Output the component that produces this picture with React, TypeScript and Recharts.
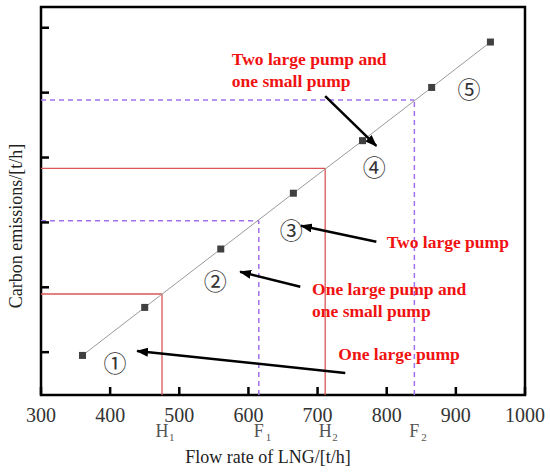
import {
  ComposedChart,
  Line,
  ReferenceArea,
  ReferenceDot,
  ReferenceLine,
  XAxis,
  YAxis,
} from "recharts";

// measured points (flow rate t/h, emission in axis units)
const FLOW = [360, 450, 560, 665, 765, 865, 950];
const EMISSION = [0.95, 1.69, 2.59, 3.45, 4.26, 5.08, 5.78];

const X_TICKS = [300, 400, 500, 600, 700, 800, 900, 1000];
const Y_TICKS = [1, 2, 3, 4, 5, 6];
const Y_MIN = 0.34;
const Y_MAX = 6.32;

// switching points: H = red solid, F = purple dashed
const H_FLOW = [475, 711];
const H_EMISSION = [1.897, 3.834];
const F_FLOW = [615, 840];
const F_EMISSION = [3.026, 4.887];

const ZONE_LABELS = ["①", "②", "③", "④", "⑤"];
const ZONE_X = [407, 552, 662, 782, 919];
const ZONE_Y = [0.85, 2.11, 2.9, 3.87, 5.07];

const NOTE_LINES = [
  ["Two large pump and", "one small pump"],
  ["Two large pump"],
  ["One large pump and", "one small pump"],
  ["One large pump"],
];
const NOTE_X = [576, 800, 692, 730];
const NOTE_Y = [5.426, 2.606, 1.881, 0.879];

// arrows, tail -> head
const ARROW_X1 = [740, 675, 785, 711];
const ARROW_Y1 = [0.679, 2.009, 2.703, 4.948];
const ARROW_X2 = [439, 588, 676, 785];
const ARROW_Y2 = [1.018, 2.24, 2.949, 4.178];

const data = FLOW.map((flow, i) => ({ flow, emission: EMISSION[i] }));

const SERIF = "'Liberation Serif', 'Times New Roman', serif";
const RED = "#dc5656";
const PURPLE = "#a070ee";

/* eslint-disable @typescript-eslint/no-explicit-any */
function XTick({ x, y, payload }: any) {
  return (
    <g>
      <line x1={x} x2={x} y1={y} y2={y - 8} stroke="#000" strokeWidth={2.5} />
      <text
        x={x}
        y={y + 27}
        textAnchor="middle"
        fontSize={20}
        fontFamily={SERIF}
        fill="#333"
      >
        {payload.value}
      </text>
    </g>
  );
}

function YTick({ x, y }: any) {
  return <line x1={x} x2={x + 8} y1={y} y2={y} stroke="#000" strokeWidth={2.5} />;
}

function SubLabel({ viewBox, main, sub }: any) {
  const x = viewBox.x;
  const y = viewBox.y + 42;
  return (
    <g fontFamily={SERIF} fill="#555">
      <text x={x} y={y} textAnchor="middle" fontSize={18}>
        {main}
      </text>
      <text x={x + 7} y={y + 4} fontSize={11}>
        {sub}
      </text>
    </g>
  );
}

function ZoneLabel({ viewBox, text }: any) {
  return (
    <text
      x={viewBox.x}
      y={viewBox.y}
      textAnchor="middle"
      dominantBaseline="central"
      fontSize={23}
      fontFamily="'Noto Sans CJK JP', 'DejaVu Sans', sans-serif"
      fill="#333"
    >
      {text}
    </text>
  );
}

function Note({ viewBox, lines }: any) {
  return (
    <text
      x={viewBox.x}
      y={viewBox.y}
      fontSize={17.5}
      fontWeight="bold"
      fontFamily={SERIF}
      fill="#f01212"
    >
      {lines.map((t: string, i: number) => (
        <tspan key={i} x={viewBox.x} dy={i === 0 ? 0 : 22}>
          {t}
        </tspan>
      ))}
    </text>
  );
}

function Arrow(p: any) {
  return (
    <line
      x1={p.x1}
      y1={p.y1}
      x2={p.x2}
      y2={p.y2}
      stroke="#000"
      strokeWidth={2.5}
      markerEnd="url(#arrowHead)"
    />
  );
}
/* eslint-enable @typescript-eslint/no-explicit-any */

export default function App() {
  return (
    <div>
      <style>{"body{margin:0}"}</style>
      <ComposedChart
        width={550}
        height={474}
        data={data}
        margin={{ top: 7, right: 25, bottom: 0, left: 0 }}
      >
        <defs>
          <marker
            id="arrowHead"
            markerUnits="userSpaceOnUse"
            markerWidth={12}
            markerHeight={9}
            refX={11}
            refY={4.5}
            orient="auto"
          >
            <path d="M0,0 L12,4.5 L0,9 z" fill="#000" />
          </marker>
        </defs>
        <XAxis
          dataKey="flow"
          type="number"
          domain={[300, 1000]}
          ticks={X_TICKS}
          interval={0}
          axisLine={false}
          tickLine={false}
          tickSize={0}
          tickMargin={0}
          height={79}
          tick={(p) => <XTick {...p} />}
          label={{
            content: () => (
              <text
                x={268}
                y={463}
                textAnchor="middle"
                fontSize={18}
                fontFamily={SERIF}
                fill="#222"
              >
                Flow rate of LNG/[t/h]
              </text>
            ),
          }}
        />
        <YAxis
          type="number"
          domain={[Y_MIN, Y_MAX]}
          ticks={Y_TICKS}
          interval={0}
          axisLine={false}
          tickLine={false}
          tickSize={0}
          tickMargin={0}
          width={41}
          tick={(p) => <YTick {...p} />}
          label={{
            content: () => (
              <text
                x={22}
                y={226}
                textAnchor="middle"
                fontSize={18}
                fontFamily={SERIF}
                fill="#222"
                transform="rotate(-90, 22, 226)"
              >
                Carbon emissions/[t/h]
              </text>
            ),
          }}
        />

        {H_FLOW.map((x, i) => (
          <ReferenceLine
            key={`hh${i}`}
            segment={[
              { x: 300, y: H_EMISSION[i] },
              { x, y: H_EMISSION[i] },
            ]}
            stroke={RED}
            strokeWidth={1.3}
          />
        ))}
        {H_FLOW.map((x, i) => (
          <ReferenceLine
            key={`hv${i}`}
            segment={[
              { x, y: Y_MIN },
              { x, y: H_EMISSION[i] },
            ]}
            stroke={RED}
            strokeWidth={1.3}
          />
        ))}
        {F_FLOW.map((x, i) => (
          <ReferenceLine
            key={`fh${i}`}
            segment={[
              { x: 300, y: F_EMISSION[i] },
              { x, y: F_EMISSION[i] },
            ]}
            stroke={PURPLE}
            strokeWidth={1.5}
            strokeDasharray="5 4"
          />
        ))}
        {F_FLOW.map((x, i) => (
          <ReferenceLine
            key={`fv${i}`}
            segment={[
              { x, y: Y_MIN },
              { x, y: F_EMISSION[i] },
            ]}
            stroke={PURPLE}
            strokeWidth={1.5}
            strokeDasharray="5 4"
          />
        ))}

        <Line
          dataKey="emission"
          type="linear"
          stroke="#9a9a9a"
          strokeWidth={1}
          isAnimationActive={false}
          dot={(p) => (
            <rect
              key={p.index}
              x={p.cx - 3.5}
              y={p.cy - 3.5}
              width={7}
              height={7}
              fill="#404040"
            />
          )}
          activeDot={false}
        />

        {ARROW_X1.map((x, i) => (
          <ReferenceLine
            key={`ar${i}`}
            segment={[
              { x, y: ARROW_Y1[i] },
              { x: ARROW_X2[i], y: ARROW_Y2[i] },
            ]}
            shape={(p) => <Arrow {...p} />}
          />
        ))}

        {ZONE_LABELS.map((t, i) => (
          <ReferenceDot
            key={`z${i}`}
            x={ZONE_X[i]}
            y={ZONE_Y[i]}
            r={0}
            stroke="none"
            label={(p) => <ZoneLabel {...p} text={t} />}
          />
        ))}
        {NOTE_LINES.map((lines, i) => (
          <ReferenceDot
            key={`n${i}`}
            x={NOTE_X[i]}
            y={NOTE_Y[i]}
            r={0}
            stroke="none"
            label={(p) => <Note {...p} lines={lines} />}
          />
        ))}
        {H_FLOW.map((x, i) => (
          <ReferenceDot
            key={`hl${i}`}
            x={x}
            y={Y_MIN}
            r={0}
            stroke="none"
            label={(p) => <SubLabel {...p} main="H" sub={String(i + 1)} />}
          />
        ))}
        {F_FLOW.map((x, i) => (
          <ReferenceDot
            key={`fl${i}`}
            x={x}
            y={Y_MIN}
            r={0}
            stroke="none"
            label={(p) => <SubLabel {...p} main="F" sub={String(i + 1)} />}
          />
        ))}

        <ReferenceArea
          x1={300}
          x2={1000}
          y1={Y_MIN}
          y2={Y_MAX}
          fill="none"
          stroke="#000"
          strokeWidth={2.5}
        />
      </ComposedChart>
    </div>
  );
}
